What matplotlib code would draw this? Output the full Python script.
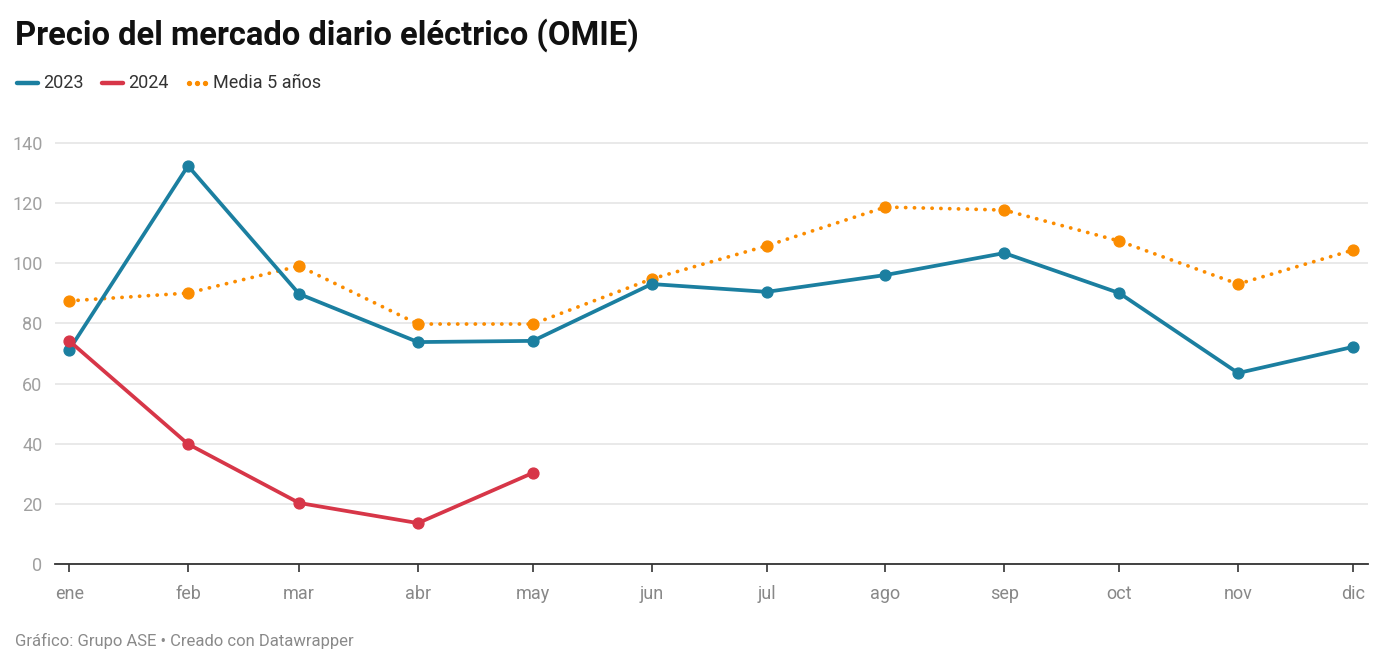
import matplotlib
matplotlib.use("Agg")
import matplotlib.pyplot as plt
import matplotlib.dates as mdates
import numpy as np
import datetime as dt

plt.rcParams['font.family'] = ['Roboto', 'DejaVu Sans']

months = ["ene", "feb", "mar", "abr", "may", "jun", "jul", "ago", "sep", "oct", "nov", "dic"]
dates = [dt.date(2024, m, 1) for m in range(1, 13)]
s2023 = [71.2, 132.4, 89.8, 73.8, 74.2, 93.1, 90.5, 96.1, 103.4, 90.1, 63.5, 72.2]
s2024 = [74.2, 39.9, 20.3, 13.6, 30.3]
media = [87.5, 90.1, 99.1, 79.8, 79.8, 94.8, 105.8, 118.7, 117.7, 107.4, 93.1, 104.4]
yticks = [0, 20, 40, 60, 80, 100, 120, 140]

c_blue = "#1b7fa0"
c_red = "#d73648"
c_orange = "#fb8c00"

W, H = 1386, 667
fig = plt.figure(figsize=(W / 100, H / 100), dpi=100)
ax = fig.add_axes([55 / W, 1 - 564 / H, (1368 - 55) / W, (564 - 135) / H])

ax.plot(dates, media, color=c_orange, lw=2.7, linestyle=(0, (0.05, 2.3)),
        dash_capstyle='round', marker='o', markersize=7.8, zorder=3, label="Media 5 años")
ax.plot(dates, s2023, color=c_blue, lw=2.7, marker='o', markersize=7.8,
        solid_capstyle='round', zorder=4, label="2023")
ax.plot(dates[:len(s2024)], s2024, color=c_red, lw=2.7, marker='o', markersize=7.8,
        solid_capstyle='round', zorder=5, label="2024")

x0 = mdates.date2num(dt.date(2024, 1, 1)) - 3.7
x1 = mdates.date2num(dt.date(2024, 12, 1)) + 3.9
ax.set_xlim(x0, x1)
ax.set_ylim(0, 140 * (564 - 135) / (564 - 143))

ax.set_yticks(yticks)
ax.set_yticklabels([str(v) for v in yticks])
ax.set_xticks(dates)
ax.set_xticklabels(months)

for s in ["top", "right", "left"]:
    ax.spines[s].set_visible(False)
ax.spines["bottom"].set_color("#333333")
ax.spines["bottom"].set_linewidth(1.3)
ax.grid(axis='y', color="#e5e5e5", lw=1.2, zorder=0)
ax.set_axisbelow(True)
ax.tick_params(axis='y', length=0, pad=9, labelsize=13, labelcolor="#a0a0a0")
ax.tick_params(axis='x', length=6, width=1.2, color="#333333", pad=9,
               labelsize=13, labelcolor="#888888")

fig.text(15 / W, 1 - 35 / H, "Precio del mercado diario eléctrico (OMIE)",
         fontsize=23.6, fontweight='bold', color="#111111", va='center', ha='left')

# legend
ly = 1 - 83 / H
items = [(c_blue, "-", "2023", 15, 43), (c_red, "-", "2024", 100, 128), (c_orange, "dot", "Media 5 años", 185, 213)]
for col, st, lab, xs, xt in items:
    if st == "-":
        fig.add_artist(matplotlib.lines.Line2D([(xs + 2) / W, (xs + 23) / W], [ly, ly], color=col,
                                               lw=3.2, solid_capstyle='round'))
    else:
        for k in range(3):
            fig.add_artist(matplotlib.lines.Line2D([(xs + 4 + 8 * k) / W], [ly], color=col,
                                                   marker='o', markersize=2.8, lw=0))
    fig.text(xt / W, ly, lab, fontsize=13, color="#333333", va='center', ha='left')

fig.text(15 / W, 1 - 641 / H, "Gráfico: Grupo ASE • Creado con Datawrapper",
         fontsize=12, color="#8a8a8a", va='center', ha='left')

fig.savefig("out.png", dpi=100)
